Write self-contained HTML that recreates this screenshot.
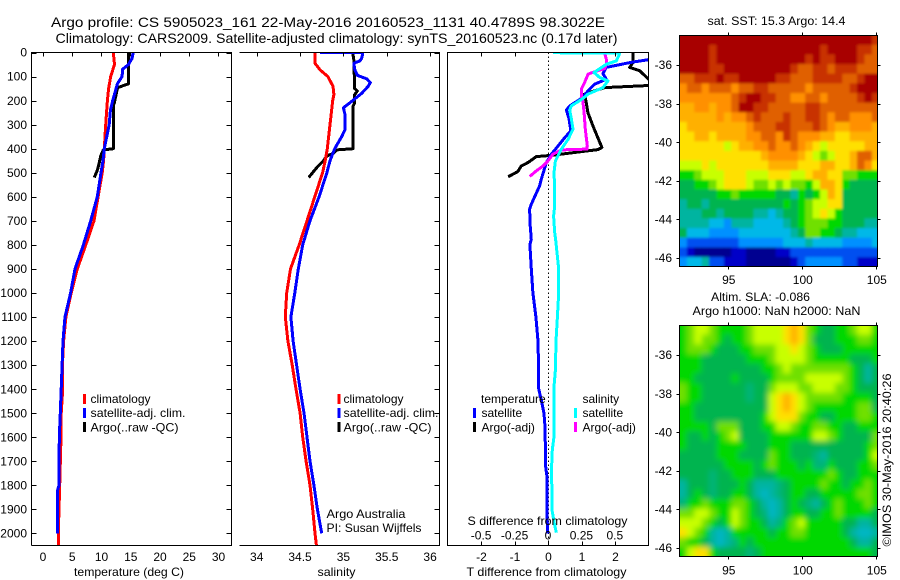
<!DOCTYPE html>
<html lang="en">
<head>
<meta charset="utf-8">
<title>Argo profile</title>
<style>
html,body{margin:0;padding:0;background:#fff;width:900px;height:580px;overflow:hidden}
svg{display:block}
text{font-family:"Liberation Sans",Arial,sans-serif;font-size:12px;fill:#000}
.t14{font-size:14px}
.sp{stroke:#000;stroke-width:1;shape-rendering:crispEdges;fill:none}
.lg{shape-rendering:crispEdges}
</style>
</head>
<body>
<svg id="root" xmlns="http://www.w3.org/2000/svg" width="900" height="580" viewBox="0 0 900 580">
  <rect width="900" height="580" fill="#fff"/>
  <defs>
    <clipPath id="c1"><rect x="31.5" y="52.5" width="200" height="493"/></clipPath>
    <clipPath id="c2"><rect x="239.5" y="52.5" width="200" height="493"/></clipPath>
    <clipPath id="c3"><rect x="447.5" y="52.5" width="201" height="493"/></clipPath>
    <clipPath id="cm1"><rect x="679.5" y="35" width="198" height="232"/></clipPath>
    <clipPath id="cm2"><rect x="679.5" y="325" width="198" height="232"/></clipPath>
    <filter id="soft" x="-5%" y="-5%" width="110%" height="110%"><feGaussianBlur stdDeviation="3"/></filter>
    <filter id="softer" x="-5%" y="-5%" width="110%" height="110%"><feGaussianBlur stdDeviation="1.4"/></filter>
  </defs>

  <text class="t14" x="51" y="27" textLength="554" lengthAdjust="spacingAndGlyphs">Argo profile: CS 5905023_161 22-May-2016 20160523_1131 40.4789S 98.3022E</text>
  <text class="t14" x="55.5" y="43" textLength="562" lengthAdjust="spacingAndGlyphs">Climatology: CARS2009. Satellite-adjusted climatology: synTS_20160523.nc (0.17d later)</text>

  <g id="curves1" clip-path="url(#c1)"></g>
  <g id="curves2" clip-path="url(#c2)"></g>
  <g id="curves3" clip-path="url(#c3)">
    <line x1="548.5" x2="548.5" y1="52.5" y2="545.5" stroke="#000" stroke-width="1" stroke-dasharray="1.5 2.5" shape-rendering="crispEdges"/>
  </g>

  <path class="sp" d="M31.5 545.5V52.5H231.5V545.5H31.5"/>
  <path class="sp" d="M239.5 52.5H439.5V545.5H239.5"/>
  <path class="sp" d="M447.5 52.5H648.5V545.5H447.5Z"/>
  <g id="axes"></g>

  <text x="74" y="576" textLength="110" lengthAdjust="spacingAndGlyphs">temperature (deg C)</text>
  <text x="317.5" y="576" textLength="38" lengthAdjust="spacingAndGlyphs">salinity</text>
  <text x="466.5" y="576" textLength="160" lengthAdjust="spacingAndGlyphs">T difference from climatology</text>
  <text x="467.5" y="525" textLength="160" lengthAdjust="spacingAndGlyphs">S difference from climatology</text>

  <g>
    <rect class="lg" x="83" y="394" width="3" height="10" fill="#f00"/>
    <rect class="lg" x="83" y="408" width="3" height="10" fill="#00f"/>
    <rect class="lg" x="83" y="422" width="3" height="10" fill="#000"/>
    <text x="90.5" y="403">climatology</text>
    <text x="90.5" y="417" textLength="95" lengthAdjust="spacingAndGlyphs">satellite-adj. clim.</text>
    <text x="90.5" y="431.5" textLength="88" lengthAdjust="spacingAndGlyphs">Argo(..raw -QC)</text>
  </g>
  <g>
    <rect class="lg" x="337.5" y="394" width="3" height="10" fill="#f00"/>
    <rect class="lg" x="337.5" y="408" width="3" height="10" fill="#00f"/>
    <rect class="lg" x="337.5" y="422" width="3" height="10" fill="#000"/>
    <text x="343.5" y="403">climatology</text>
    <text x="343.5" y="417" textLength="95" lengthAdjust="spacingAndGlyphs">satellite-adj. clim.</text>
    <text x="343.5" y="431.5" textLength="88" lengthAdjust="spacingAndGlyphs">Argo(..raw -QC)</text>
  </g>
  <text x="326.5" y="518" textLength="79" lengthAdjust="spacingAndGlyphs">Argo Australia</text>
  <text x="326.5" y="532" textLength="95" lengthAdjust="spacingAndGlyphs">PI: Susan Wijffels</text>

  <g>
    <text x="481" y="403">temperature</text>
    <text x="582.5" y="403">salinity</text>
    <rect class="lg" x="473" y="408" width="3" height="10" fill="#00f"/>
    <rect class="lg" x="473" y="422" width="3" height="10" fill="#000"/>
    <rect class="lg" x="574" y="408" width="3" height="10" fill="#0ff"/>
    <rect class="lg" x="574" y="422" width="3" height="10" fill="#f0f"/>
    <text x="481.5" y="417">satellite</text>
    <text x="481.5" y="431.5">Argo(-adj)</text>
    <text x="582.5" y="417">satellite</text>
    <text x="582.5" y="431.5">Argo(-adj)</text>
  </g>

  <text x="707.5" y="25" textLength="138" lengthAdjust="spacingAndGlyphs">sat. SST: 15.3 Argo: 14.4</text>
  <text x="711" y="301" textLength="99" lengthAdjust="spacingAndGlyphs">Altim. SLA: -0.086</text>
  <text x="692.5" y="315" textLength="168" lengthAdjust="spacingAndGlyphs">Argo h1000: NaN h2000: NaN</text>
  <g clip-path="url(#cm1)"><g id="map1" filter="url(#softer)"></g></g>
  <g clip-path="url(#cm2)"><g id="map2" filter="url(#soft)"></g></g>
  <rect class="sp" x="679.5" y="35.5" width="198" height="231"/>
  <rect class="sp" x="679.5" y="325.5" width="198" height="231"/>
  <text transform="translate(891 546.5) rotate(-90)" textLength="173" lengthAdjust="spacingAndGlyphs">©IMOS 30-May-2016 20:40:26</text>
</svg>

<script>
// ---- tick values ----
const depthTicks = [0,100,200,300,400,500,600,700,800,900,1000,1100,1200,1300,1400,1500,1600,1700,1800,1900,2000];
const tempTicks = [0,5,10,15,20,25,30];
const salTicks = [34,34.5,35,35.5,36];
const tDiffTicks = [-2,-1,0,1,2];
const sDiffTicks = [-0.5,-0.25,0,0.25,0.5];
const lonTicks = [95,100,105];
const latTicks = [-36,-38,-40,-42,-44,-46];

// ---- temperature panel ----
const tempClimDepth = [0,50,100,150,200,300,400,450,500,600,700,800,900,1000,1100,1200,1300,1400,1500,1600,1800,2000,2053];
const tempClim = [12.1,12.3,11.65,11.3,11.1,10.8,10.57,10.45,10.2,9.5,8.8,7.4,5.95,4.9,4.0,3.6,3.4,3.45,3.2,3.16,2.94,2.7,2.7];
const tempSatDepth = [0,25,50,70,100,130,200,240,300,400,450,500,600,700,800,900,1000,1100,1200,1400,1500,1600,1800,1820,2000];
const tempSat = [15.5,15.3,14.7,13.7,13.6,12.8,12.0,11.6,11.4,10.57,10.35,10,9.37,8.24,7,5.55,4.8,3.85,3.5,3.2,3.05,2.87,2.82,2.6,2.6];
const tempArgoDepth = [0,130,145,150,210,220,400,405,430,460,490,520];
const tempArgo = [14.73,14.7,12.95,12.8,12.27,12.1,12.1,10.4,9.95,9.7,9.37,8.85];

// ---- salinity panel ----
const salClimDepth = [0,45,72,100,140,175,200,300,400,450,500,600,700,800,900,1000,1100,1200,1300,1400,1500,1600,1700,1800,1900,2000,2053];
const salClim = [34.672,34.672,34.73,34.82,34.88,34.89,34.877,34.845,34.814,34.79,34.76,34.67,34.58,34.49,34.39,34.346,34.33,34.36,34.41,34.453,34.5,34.53,34.57,34.615,34.646,34.672,34.69];
const salSatDepth = [0,1,10,25,35,45,70,95,110,125,140,170,200,230,260,320,350,400,450,500,600,700,800,900,1000,1100,1200,1300,1400,1500,1600,1700,1800,1900,2000];
const salSat = [34.73,35.22,35.22,35.21,35.19,35.12,35.13,35.16,35.27,35.31,35.287,35.21,35.107,35.0,35.02,35.02,34.98,34.9,34.845,34.81,34.72,34.615,34.53,34.48,34.44,34.395,34.42,34.46,34.5,34.545,34.58,34.615,34.66,34.7,34.75];
const salArgoDepth = [0,30,150,160,175,210,225,400,405,420,430,450,480,520];
const salArgo = [35.107,35.12,35.13,35.16,35.13,35.13,35.11,35.11,34.92,34.88,34.81,34.77,34.69,34.6];

// ---- difference panel ----
const dtSatDepth = [0,30,42,62,87,111,132,160,187,222,239,277,326,354,423,458,527,555,631,652,721,777,800,900,1000,1100,1200,1321,1397,1460,1502,1557,1724,1766,1988,2000];
const dtSat = [3.4,2.99,2.44,1.74,1.64,1.74,1.39,1.19,1.04,0.65,0.55,0.63,0.68,0.5,0.1,-0.05,-0.2,-0.25,-0.5,-0.55,-0.53,-0.5,-0.54,-0.5,-0.45,-0.36,-0.3,-0.28,-0.28,-0.18,-0.12,-0.09,-0.07,-0.03,-0.02,-0.02];
const dtArgoDepth = [0,40,62,76,111,125,136,146,173,208,250,305,395,404,427,433,458,472,495,517];
const dtArgo = [2.54,2.54,2.44,2.74,3.0,3.6,3.2,1.69,1.09,1.14,1.19,1.34,1.61,1.49,0.15,-0.35,-0.6,-0.8,-0.9,-1.19];
const dsSatDepth = [1,3,14,35,49,83,104,118,146,173,191,222,239,277,319,361,402,451,499,569,638,680,749,777,900,1000,1100,1200,1321,1390,1598,1653,1724,1903,1958,1997];
const dsSat = [0.037,0.536,0.529,0.511,0.436,0.344,0.387,0.449,0.411,0.299,0.262,0.175,0.162,0.175,0.187,0.15,0.1,0.055,0.045,0.05,0.05,0.042,0.05,0.057,0.08,0.08,0.07,0.06,0.055,0.045,0.045,0.032,0.027,0.03,0.047,0.062];
const dsArgoDepth = [3,28,49,67,80,90,125,153,180,208,250,319,388,402,405,423,451,472,492,516];
const dsArgo = [0.424,0.436,0.436,0.424,0.349,0.3,0.274,0.249,0.249,0.262,0.27,0.279,0.294,0.292,0.1,0.037,0,-0.037,-0.087,-0.137];

// ---- map values (colour level 0 = coldest/lowest, 15 = warmest/highest), north to south, 0.5 degree cells ----
const sstLevels = [
[15,15,15,15,15,15,15,15,15,15,15,15,15,15,15,15,15,15,15,15,15,15,15,15,15,15,14],
[15,15,15,15,14,15,15,15,15,15,15,15,15,15,15,15,15,15,15,14,15,15,15,15,14,14,13],
[15,15,15,15,14,15,15,15,15,15,15,15,15,15,15,15,15,14,15,14,14,15,15,15,14,13,13],
[15,15,15,15,14,14,15,15,15,15,15,15,15,15,15,14,13,13,14,14,13,14,14,14,13,13,13],
[13,13,14,14,14,15,14,14,15,15,15,15,15,14,14,13,13,13,14,14,14,14,13,13,14,15,15],
[12,13,13,12,13,13,13,12,13,13,14,14,13,13,13,13,13,12,13,13,13,13,13,14,15,15,15],
[12,12,12,12,12,12,12,13,14,15,15,14,14,13,13,12,12,13,13,12,13,13,13,13,14,15,14],
[11,11,12,12,11,12,12,13,15,15,14,14,13,13,13,13,13,14,14,13,13,13,13,13,13,13,13],
[11,11,11,11,11,12,11,12,12,13,14,13,13,13,14,13,13,14,14,13,12,13,13,12,12,12,13],
[10,11,11,11,11,11,11,11,11,12,13,13,13,14,14,13,13,13,14,13,12,11,11,12,12,12,11],
[10,10,11,11,10,11,11,11,11,12,12,13,13,12,14,13,12,12,12,11,11,10,10,11,11,11,11],
[10,10,10,10,10,10,9,10,11,11,12,12,13,12,12,13,12,11,10,9,10,10,10,10,10,11,11],
[10,10,10,10,10,10,10,10,10,10,10,11,12,12,12,12,11,10,9,8,9,10,10,11,13,13,11],
[9,9,9,10,9,10,10,10,10,10,10,10,11,11,11,11,10,10,10,11,11,10,10,11,13,12,10],
[7,7,8,9,9,9,10,10,10,9,9,9,10,10,10,9,9,10,11,11,10,10,8,8,7,7,7],
[6,6,7,7,8,9,10,10,10,9,8,8,9,8,9,8,8,7,9,11,11,10,7,6,6,6,6],
[6,6,6,6,6,7,7,8,7,7,7,7,7,6,6,5,7,6,7,9,11,10,6,6,6,6,6],
[5,6,6,5,6,6,6,6,6,6,6,6,6,6,7,6,7,8,9,9,10,10,6,6,6,6,6],
[5,5,5,6,6,5,6,6,6,6,5,5,4,5,6,6,7,8,9,10,9,7,6,6,6,6,6],
[5,5,5,5,4,4,3,5,5,5,4,4,4,4,5,6,7,8,8,8,7,7,6,6,6,5,5],
[6,4,4,4,3,3,3,3,4,4,4,4,4,4,4,5,6,8,8,7,7,6,5,5,4,4,4],
[3,2,2,2,2,2,2,2,3,3,3,3,3,3,4,4,4,5,4,4,4,4,3,3,3,3,4],
[2,1,0,0,0,0,0,1,1,0,0,0,0,1,1,2,2,2,2,2,2,2,2,2,2,2,2],
[3,4,4,5,2,2,1,1,1,0,0,0,0,0,0,1,2,3,3,3,3,3,2,2,1,1,1]
];
const slaLevels = [
[7,8,9,9,8,7,7,7,7,8,9,9,9,9,10,11,10,8,7,6,6,7,7,8,9,9,7],
[7,8,9,8,8,7,6,7,7,8,9,9,9,9,10,11,10,8,6,6,6,7,7,7,8,8,7],
[7,8,8,8,7,6,6,6,7,7,8,8,8,9,9,10,9,8,7,6,6,6,7,7,7,7,7],
[7,7,7,6,6,6,6,6,6,7,7,7,8,9,9,9,9,8,7,7,7,7,7,6,6,6,7],
[7,7,7,6,6,6,6,6,6,6,6,7,7,8,9,8,8,8,8,8,8,8,8,7,6,5,6],
[7,7,6,6,6,6,6,7,6,6,6,6,7,8,8,8,8,9,9,9,9,9,8,7,6,5,6],
[8,7,7,6,6,6,6,6,6,5.5,6,6,8,9,9,9,8,8,9,9,9,8,8,7,6,6,6],
[8,7,7,6,6,6,6,6,6,5.5,6,6,9,10,11,10,9,8,8,8,8,8,7,7,7,7,6],
[7,7,6,6,6,6,6,6,6,6,6,6,9,10,11,10,9,8,7,7,7,7,7,7,8,8,6],
[7,7,6,6,6,6,6,6,6,6,6,7,9,10,10,10,8,7,7,6,6,7,7,7,8,8,7],
[7,7,7,7,6,8,8,8,6,6,6,7,7,9,9,8,7,7,8,8,7,7,6,6,7,7,7],
[7,6,6,7,6,7,8,9,6,6,6,6,7,7,7,7,7,7,9,9,8,7,6,6,6,6,8],
[7,6,6,6,6,7,7,7,7,6,6,6,7,7,7,6,6,6,6,6,6,6,6,6,6,7,8],
[6,6,6,6,6,7,7,7,6,6,6,6,8,7,7,6,6,6,5.5,5,6,6,6,6,6,7,9],
[6,6,6,6,6,6,7,7,7,7,6,7,8,7,7,7,6,7,5.5,5.5,7,6,6,6,7,7,8],
[6,6,6,6,5.5,6,6,7,7,7,6,6,6,7,7,7,7,7,7,7,8,7,6,6,7,7,7],
[5,6,6,6,5.5,6,6,6,7,6,5,5,5,5.5,6,7,7,7,7,8,7,7,6,7,7,8,7],
[5,6,7,6,5.5,6,6,7,7,6,5,4.5,5,5.5,6,7,7,6,6,7,7,7,7,7,8,8,7],
[5.5,7,7,8,7,7,7,8,8,7,6,5,4.5,5,6,7,6,5.5,5,6,7,8,7,7,7,8,7],
[8,8,9,9,8,7,7,9,8,7,6,5.5,4.5,5,6,7,7,6,6,7,7,8,7,7,7,7,6],
[9,9,9,8,7,6,7,9,8,7,7,6,5,5.5,7,8,9,7,7,7,7,7,6,6,5,5,6],
[10,9,8,7,5,4.5,5,7,7,7,7,7,6,7,7,8,8,7,7,7,7,7,6,5,4.5,4.5,5],
[8,7,7,6,5,4.5,5,5.5,7,6,7,7,7,7,7,7,7,7,7,7,7,7,7,6,5,5,6],
[7,9,10,10,7,6,6,6,6,5.5,6,7,7,7,7,7,7,7,7,7,7,7,7,7,7,7,6]
];
const mapLonStart = 91.7;
const mapLatStart = -34.45;
const mapCellDeg = 0.5;

// ---- colour scale ----
const levelColors = ['#000090','#0000c8','#0050f0','#0090ff','#00b8e8','#00b4a0','#00b450','#00d800','#70e000','#c8ff00','#ffe000','#ffb000','#ff9000','#e06000','#c83000','#a80000'];

// ---- axis functions ----
function yDepth(d){ return 52.5 + 0.2404 * d; }
function xTemp(t){ return 42.5 + 5.85 * t; }
function xSal(s){ return 256.7 + 86.7 * (s - 34); }
function xDT(v){ return 548 + 33.5 * v; }
function xDS(v){ return 548 + 133.7 * v; }
function xLon(l){ return 728.3 + 14.8 * (l - 95); }
function yLat1(l){ return 65 + 19.3 * (-36 - l); }
function yLat2(l){ return 355 + 19.3 * (-36 - l); }

const NS = 'http://www.w3.org/2000/svg';
function mk(tag, parent, attrs){
  const el = document.createElementNS(NS, tag);
  for (const k in attrs) el.setAttribute(k, attrs[k]);
  parent.appendChild(el);
  return el;
}
function levelColor(v){
  const c = Math.max(0, Math.min(levelColors.length - 1, v));
  const i = Math.floor(c), f = c - i;
  if (f === 0) return levelColors[i];
  const a = levelColors[i], b = levelColors[i + 1];
  const ch = p => Math.round(parseInt(a.substr(p, 2), 16) * (1 - f) + parseInt(b.substr(p, 2), 16) * f);
  return 'rgb(' + ch(1) + ',' + ch(3) + ',' + ch(5) + ')';
}
function linePoints(xs, depths, xf){
  return xs.map((v, i) => xf(v).toFixed(1) + ',' + yDepth(depths[i]).toFixed(1)).join(' ');
}
function drawCurve(parent, xs, depths, xf, color, name){
  const el = mk('polyline', parent, {points: linePoints(xs, depths, xf), fill: 'none', stroke: color, 'stroke-width': 3, 'stroke-linejoin': 'round', 'shape-rendering': 'crispEdges'});
  
  
}

const g1 = document.getElementById('curves1');
const g2 = document.getElementById('curves2');
const g3 = document.getElementById('curves3');
const ax = document.getElementById('axes');

drawCurve(g1, tempArgo, tempArgoDepth, xTemp, '#000', 'temperature-argo-line');
drawCurve(g1, tempClim, tempClimDepth, xTemp, '#f00', 'temperature-climatology-line');
drawCurve(g1, tempSat, tempSatDepth, xTemp, '#00f', 'temperature-satellite-line');
drawCurve(g2, salArgo, salArgoDepth, xSal, '#000', 'salinity-argo-line');
drawCurve(g2, salClim, salClimDepth, xSal, '#f00', 'salinity-climatology-line');
drawCurve(g2, salSat, salSatDepth, xSal, '#00f', 'salinity-satellite-line');
drawCurve(g3, dtArgo, dtArgoDepth, xDT, '#000', 't-difference-argo-line');
drawCurve(g3, dtSat, dtSatDepth, xDT, '#00f', 't-difference-satellite-line');
drawCurve(g3, dsArgo, dsArgoDepth, xDS, '#f0f', 's-difference-argo-line');
drawCurve(g3, dsSat, dsSatDepth, xDS, '#0ff', 's-difference-satellite-line');

function tick(x1, y1, x2, y2){
  const el = mk('line', ax, {x1: x1, y1: y1, x2: x2, y2: y2, stroke: '#000', 'stroke-width': 1, 'shape-rendering': 'crispEdges'});
  
  
}
function label(x, y, txt, anchor){
  const el = mk('text', ax, {x: x, y: y, 'text-anchor': anchor});
  el.textContent = txt;
  
  
}
depthTicks.forEach(d => {
  const y = Math.round(yDepth(d)) + 0.5;
  label(27, yDepth(d) + 4.2, String(d), 'end');
  tick(31.5, y, 36.5, y);
  tick(226.5, y, 231.5, y);
  tick(434.5, y, 439.5, y);
});
tempTicks.forEach(t => {
  const x = Math.round(xTemp(t)) + 0.5;
  tick(x, 52.5, x, 56.5);
  label(xTemp(t) + 0.5, 561, String(t), 'middle');
});
salTicks.forEach(s => {
  const x = Math.round(xSal(s)) + 0.5;
  tick(x, 52.5, x, 56.5);
  label(xSal(s), 561, String(s), 'middle');
});
tDiffTicks.forEach(v => {
  const x = Math.round(xDT(v)) + 0.5;
  if (v !== 0) tick(x, 52.5, x, 56.5);
  tick(x, 541.5, x, 545.5);
  label(xDT(v) + 0.5, 561, String(v), 'middle');
});
sDiffTicks.forEach(v => {
  label(xDS(v), 539.5, String(v), 'middle');
});

function drawMap(host, rows, yf){
  rows.forEach((row, r) => {
    row.forEach((v, c) => {
      let x0 = xLon(mapLonStart + c * mapCellDeg);
      let x1 = xLon(mapLonStart + (c + 1) * mapCellDeg);
      let y0 = yf(mapLatStart - r * mapCellDeg);
      let y1 = yf(mapLatStart - (r + 1) * mapCellDeg);
      if (c === 0) x0 -= 12;
      if (c === row.length - 1) x1 += 12;
      if (r === 0) y0 -= 12;
      if (r === rows.length - 1) y1 += 12;
      const el = mk('rect', host, {x: x0.toFixed(2), y: y0.toFixed(2), width: (x1 - x0 + 0.4).toFixed(2), height: (y1 - y0 + 0.4).toFixed(2), fill: levelColor(v)});
      
      
    });
  });
}
drawMap(document.getElementById('map1'), sstLevels, yLat1);
drawMap(document.getElementById('map2'), slaLevels, yLat2);

[[yLat1, 35.5, 266.5, 284], [yLat2, 325.5, 556.5, 574.5]].forEach(m => {
  const yf = m[0];
  lonTicks.forEach(l => {
    const x = Math.round(xLon(l)) + 0.5;
    tick(x, m[1] - 3, x, m[1]);
    tick(x, m[2], x, m[2] + 3);
    label(xLon(l) + 0.5, m[3], String(l), 'middle');
  });
  latTicks.forEach(l => {
    const y = Math.round(yf(l)) + 0.5;
    tick(676.5, y, 679.5, y);
    tick(877.5, y, 880.5, y);
    label(672, yf(l) + 4.2, String(l), 'end');
  });
});
</script>
</body>
</html>
